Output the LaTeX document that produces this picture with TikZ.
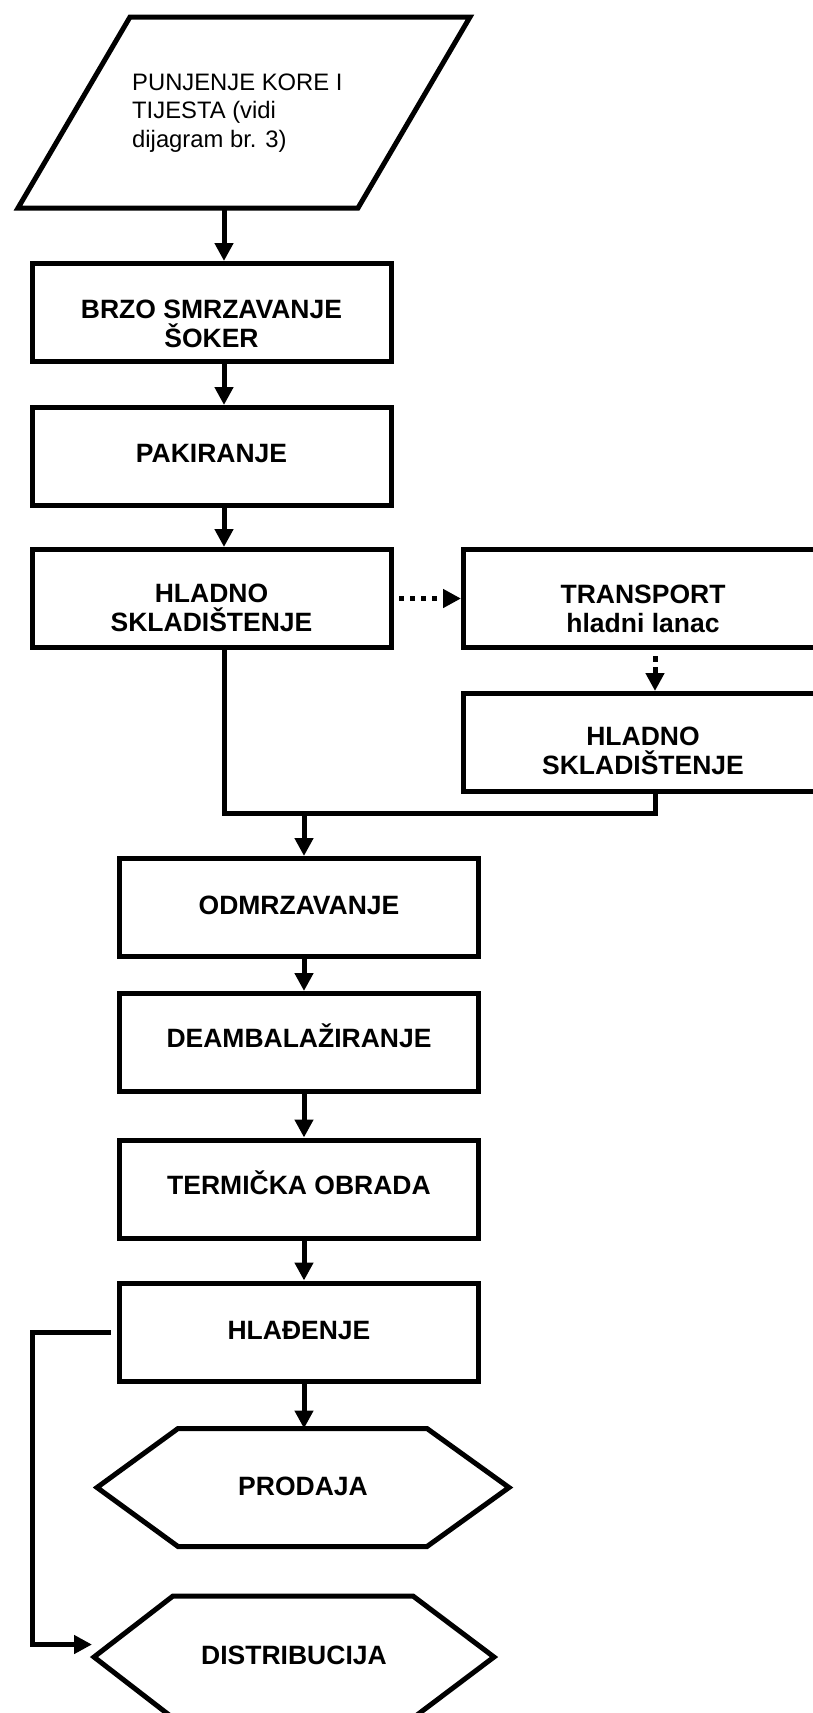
\documentclass[tikz,border=0pt]{standalone}
\usepackage{fontspec}
\setmainfont{Liberation Sans}
\usetikzlibrary{arrows.meta}
\begin{document}
\begin{tikzpicture}[x=1pt,y=-1pt,
  stepbox/.style={draw, line width=5pt, rectangle, inner sep=0pt, outer sep=0pt,
    minimum width=359pt, minimum height=98pt},
  % labels are placed by the baseline of their last line
  lbl/.style={anchor=base, inner sep=0pt, align=center,
    font=\fontsize{26.5}{29}\selectfont\bfseries},
  conn/.style={line width=5pt, line join=miter},
  arr/.style={conn, -{Triangle[length=18pt,width=18pt]}},
  toBox/.style={arr, shorten >=2.5pt},
  dotarr/.style={toBox, dash pattern=on 5pt off 6pt},
]
\useasboundingbox (0,0) rectangle (813,1713);

% input (parallelogram)
\draw[line width=5pt, line join=miter] (130,17) -- (470,17) -- (358,208) -- (18,208) -- cycle;
\node[anchor=base west, inner sep=0pt, align=left,
      font=\fontsize{23.8}{28.5}\selectfont] (inp) at (132,147)
      {PUNJENJE KORE I\\TIJESTA (vidi\\dijagram br. 3)};
\coordinate (pbot) at (224,208);

% columns for the connectors
\coordinate (colA) at (224,0);
\coordinate (colB) at (304,0);
\coordinate (colC) at (655,0);

% process steps
\node[stepbox] (b1) at (211.5,312.5) {};
\node[stepbox] (b2) at (211.5,456.5) {};
\node[stepbox] (b3) at (211.5,598.5) {};
\node[stepbox] (b4) at (643,598.5) {};
\node[stepbox] (b5) at (643,742.5) {};
\node[stepbox] (b6) at (299,907.5) {};
\node[stepbox] (b7) at (299,1042.5) {};
\node[stepbox] (b8) at (299,1189) {};
\node[stepbox] (b9) at (299,1332) {};

\node[lbl] (t1) at (211.5,347) {BRZO SMRZAVANJE\\ŠOKER};
\node[lbl] (t2) at (211.5,462) {PAKIRANJE};
\node[lbl] (t3) at (211.5,631) {HLADNO\\SKLADIŠTENJE};
\node[lbl] (t4) at (643,632) {TRANSPORT\\hladni lanac};
\node[lbl] (t5) at (643,774.5) {HLADNO\\SKLADIŠTENJE};
\node[lbl] (t6) at (299,914) {ODMRZAVANJE};
\node[lbl] (t7) at (299,1047) {DEAMBALAŽIRANJE};
\node[lbl] (t8) at (299,1194) {TERMIČKA OBRADA};
\node[lbl] (t9) at (299,1339) {HLAĐENJE};

% outputs (hexagons)
\draw[line width=5pt, line join=miter] (178,1428.5) -- (427,1428.5) -- (509,1487.5)
  -- (427,1546.5) -- (178,1546.5) -- (97,1487.5) -- cycle;
\coordinate (prodTop) at (304,1428.5);
\node[lbl] (t10) at (303,1495) {PRODAJA};

\draw[line width=5pt, line join=miter] (173,1596) -- (413,1596) -- (494,1657)
  -- (413,1718) -- (173,1718) -- (94,1657) -- cycle;
\coordinate (distTip) at (92,1644.5);
\coordinate (distTurn) at (32,1644.5);
\node[lbl] (t11) at (294,1664) {DISTRIBUCIJA};

% connectors
\draw[toBox] (pbot) -- (b1.north -| pbot);
\draw[toBox] (b1.south -| colA) -- (b2.north -| colA);
\draw[toBox] (b2.south -| colA) -- (b3.north -| colA);
\draw[dotarr, shorten <=8pt] (b3.east) -- (b4.west);
\draw[toBox, dash pattern=on 6pt off 5pt, shorten <=8.5pt] (b4.south -| colC) -- (b5.north -| colC);

\coordinate (jL) at (224,813);
\coordinate (jR) at (655,813);
\coordinate (jM) at (304,813);
\draw[conn] (b3.south -| colA) -- (jL) -- (jR) -- (b5.south -| colC);
\draw[toBox] (jM) -- (b6.north -| jM);
\draw[toBox] (b6.south -| colB) -- (b7.north -| colB);
\draw[toBox] (b7.south -| colB) -- (b8.north -| colB);
\draw[toBox] (b8.south -| colB) -- (b9.north -| colB);
\draw[arr] (b9.south -| colB) -- (prodTop);
\draw[arr] ([xshift=-9pt]b9.west) -| (distTurn) -- (distTip);
\end{tikzpicture}
\end{document}
